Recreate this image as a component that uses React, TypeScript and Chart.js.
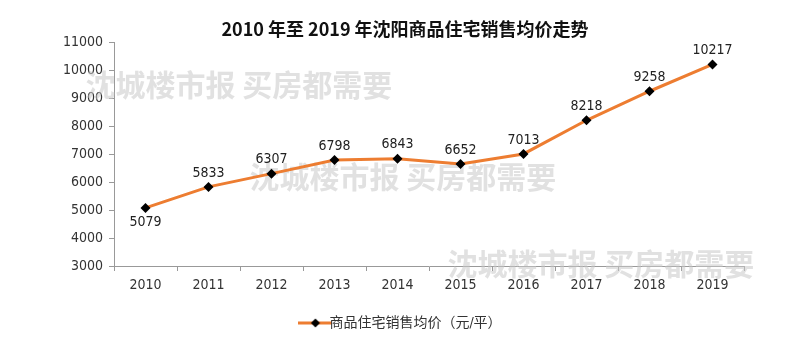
import React, { useEffect, useRef } from "react";
import { Chart, registerables } from "chart.js";

Chart.register(...registerables);

const years = ["2010", "2011", "2012", "2013", "2014", "2015", "2016", "2017", "2018", "2019"];
const prices = [5079, 5833, 6307, 6798, 6843, 6652, 7013, 8218, 9258, 10217];
const labelBelow = [true, false, false, false, false, false, false, false, false, false];
const titleText = "2010 年至 2019 年沈阳商品住宅销售均价走势";
const seriesName = "商品住宅销售均价（元/平）";
const watermark = "沈城楼市报 买房都需要";

const FONT = "'Liberation Sans Narrow', 'DejaVu Sans Condensed', 'Noto Sans CJK SC', sans-serif";

function makeLegendIcon() {
  const c = document.createElement("canvas");
  c.width = 34;
  c.height = 12;
  const ctx = c.getContext("2d")!;
  ctx.strokeStyle = "#ED7D31";
  ctx.lineWidth = 3;
  ctx.beginPath();
  ctx.moveTo(0, 6);
  ctx.lineTo(34, 6);
  ctx.stroke();
  ctx.fillStyle = "#000";
  ctx.beginPath();
  ctx.moveTo(17, 1.5);
  ctx.lineTo(21.5, 6);
  ctx.lineTo(17, 10.5);
  ctx.lineTo(12.5, 6);
  ctx.closePath();
  ctx.fill();
  return c;
}

const watermarkPlugin = {
  id: "watermark",
  beforeDatasetsDraw(chart: any) {
    const ctx = chart.ctx;
    const x = chart.scales.x;
    const y = chart.scales.y;
    ctx.save();
    ctx.fillStyle = "rgba(200,200,200,0.55)";
    ctx.font = "bold 30px 'Noto Sans CJK SC', sans-serif";
    ctx.textBaseline = "middle";
    ctx.textAlign = "left";
    const spots = [
      [x.getPixelForValue(0) - 60, y.getPixelForValue(9500)],
      [x.getPixelForValue(2) - 22, y.getPixelForValue(6200)],
      [x.getPixelForValue(5) - 13, y.getPixelForValue(3100)],
    ];
    for (const [px, py] of spots) ctx.fillText(watermark, px, py);
    ctx.restore();
  },
};

const dataLabelPlugin = {
  id: "dataLabels",
  afterDatasetsDraw(chart: any) {
    const ctx = chart.ctx;
    const meta = chart.getDatasetMeta(0);
    ctx.save();
    ctx.fillStyle = "#222";
    ctx.font = `14px ${FONT}`;
    ctx.textAlign = "center";
    meta.data.forEach((pt: any, i: number) => {
      if (labelBelow[i]) {
        ctx.textBaseline = "top";
        ctx.fillText(String(prices[i]), pt.x, pt.y + 7);
      } else {
        ctx.textBaseline = "bottom";
        ctx.fillText(String(prices[i]), pt.x, pt.y - 7);
      }
    });
    ctx.restore();
  },
};

export default function App() {
  const ref = useRef<HTMLCanvasElement>(null);
  useEffect(() => {
    document.body.style.margin = "0";
    const icon = makeLegendIcon();
    const chart = new Chart(ref.current!, {
      type: "line",
      data: {
        labels: years,
        datasets: [
          {
            label: seriesName,
            data: prices,
            borderColor: "#ED7D31",
            borderWidth: 3,
            pointStyle: "rectRot",
            pointRadius: 5,
            pointBackgroundColor: "#000",
            pointBorderColor: "#000",
            pointBorderWidth: 0,
            tension: 0,
            yAxisID: "y",
          },
        ],
      },
      options: {
        responsive: false,
        animation: false,
        layout: { padding: { left: 0, right: 0, top: 0, bottom: 12 } },
        plugins: {
          title: {
            display: true,
            text: titleText,
            color: "#111",
            font: { family: "'Noto Sans CJK SC', sans-serif", size: 18, weight: "bold" },
            padding: { top: 18, bottom: 3 },
          },
          legend: {
            position: "bottom",
            labels: {
              color: "#333",
              font: { family: FONT, size: 14 },
              usePointStyle: true,
              generateLabels: () => [
                {
                  text: seriesName,
                  pointStyle: icon,
                  fillStyle: "#ED7D31",
                  strokeStyle: "#ED7D31",
                  lineWidth: 0,
                  hidden: false,
                  datasetIndex: 0,
                  fontColor: "#333",
                },
              ],
            },
          },
          tooltip: { enabled: false },
        },
        scales: {
          x: {
            offset: true,
            grid: {
              display: true,
              offset: true,
              drawOnChartArea: false,
              tickLength: 5,
              color: "#999",
            },
            border: { color: "#999", width: 1 },
            ticks: { color: "#333", font: { family: FONT, size: 14 }, padding: 6 },
            afterFit: (s: any) => {
              s.height = 40;
            },
          },
          y: {
            min: 3000,
            max: 11000,
            ticks: {
              stepSize: 1000,
              color: "#333",
              font: { family: FONT, size: 14 },
              padding: 6,
              callback: (v: any) => String(v),
            },
            grid: { display: true, drawOnChartArea: false, tickLength: 5, color: "#999" },
            border: { color: "#999", width: 1 },
            afterFit: (s: any) => {
              s.width = 114;
            },
          },
          spacer: {
            position: "right",
            display: true,
            ticks: { display: false },
            grid: { display: false },
            border: { display: false },
            afterFit: (s: any) => {
              s.width = 66;
            },
          },
        },
      },
      plugins: [watermarkPlugin, dataLabelPlugin],
    });
    return () => chart.destroy();
  }, []);
  return <canvas ref={ref} width={810} height={352} style={{ display: "block" }} />;
}
